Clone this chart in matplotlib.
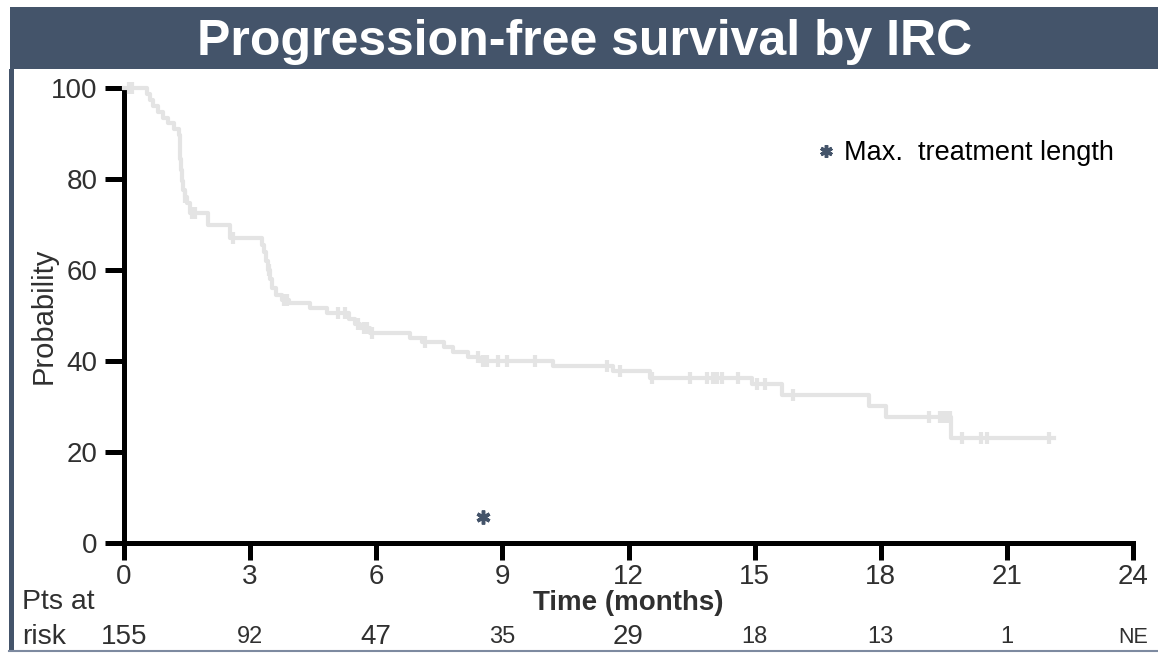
import numpy as np
import matplotlib
matplotlib.use('Agg')
import matplotlib.pyplot as plt
from matplotlib.patches import Rectangle
from matplotlib.lines import Line2D

plt.rcParams['font.family'] = ['Liberation Sans', 'DejaVu Sans']

# Kaplan-Meier steps (time in months, % progression-free)
step_t = [0, 0.55, 0.62, 0.70, 0.80, 0.92, 1.05, 1.20, 1.30, 1.33, 1.34, 1.35,
          1.37, 1.40, 1.44, 1.50, 1.58, 2.00, 2.52, 3.28, 3.33, 3.38, 3.43, 3.48,
          3.52, 3.62, 3.75, 3.92, 4.42, 4.82, 5.35, 5.50, 5.62, 5.85, 6.80, 7.10,
          7.60, 7.83, 8.19, 8.45, 10.21, 11.64, 12.51, 14.93, 15.64, 17.73, 18.13,
          19.67, 22.12]
step_s = [100, 98.7, 97.4, 96.1, 94.8, 93.5, 92.2, 90.9, 89.6, 87.0, 84.5, 82.0,
          79.5, 77.5, 76.1, 74.8, 72.5, 69.9, 67.0, 65.5, 64.0, 62.0, 60.0, 58.0,
          56.0, 54.6, 53.4, 52.7, 51.6, 50.5, 49.3, 48.2, 47.2, 46.1, 45.0, 44.2,
          43.0, 42.0, 40.8, 40.0, 38.8, 37.8, 36.3, 34.9, 32.5, 30.1, 27.8, 23.1,
          23.1]
censor_t = [0.12, 0.18, 1.45, 1.62, 1.68, 2.60, 3.45, 3.80, 3.87, 5.10, 5.26,
            5.57, 5.70, 5.78, 5.90, 7.16, 8.43, 8.55, 8.63, 8.90, 9.10, 9.78,
            11.48, 11.80, 12.57, 13.46, 13.86, 14.02, 14.10, 14.22, 14.61, 15.05,
            15.25, 15.92, 19.15, 19.40, 19.48, 19.56, 19.64, 19.93, 20.38, 20.52,
            22.00]

max_treat_t = 8.55
max_treat_y = 5.7

x_ticks = [0, 3, 6, 9, 12, 15, 18, 21, 24]
y_ticks = [0, 20, 40, 60, 80, 100]
at_risk = ['155', '92', '47', '35', '29', '18', '13', '1', 'NE']
risk_size = [20, 17, 20, 17, 20, 17, 17, 17, 15.5]

slate = '#44546A'
curve_col = '#e4e4e4'
txt_col = '#303030'

fig = plt.figure(figsize=(11.58, 6.53), dpi=100)

# title banner and panel frame
fig.add_artist(Rectangle((10 / 1158, (653 - 69) / 653), 1 - 10 / 1158, 62 / 653,
                         transform=fig.transFigure, facecolor=slate, edgecolor='none'))
fig.add_artist(Rectangle((9 / 1158, 2 / 653), 5 / 1158, (653 - 69 - 2) / 653,
                         transform=fig.transFigure, facecolor=slate, edgecolor='none'))
fig.add_artist(Line2D([9 / 1158, 1], [2.5 / 653, 2.5 / 653], transform=fig.transFigure,
                      color='#7d8aa0', lw=1.5))
fig.text(585 / 1158, (653 - 42) / 653, 'Progression-free survival by IRC', color='white',
         fontsize=36, fontweight='bold', ha='center', va='center')

ax = fig.add_axes([124 / 1158, 110 / 653, 1009 / 1158, 455 / 653])
ax.set_xlim(0, 24)
ax.set_ylim(0, 100)

# curve and censor marks
ax.step(step_t, step_s, where='post', color=curve_col, lw=3, clip_on=False, zorder=3)
idx = np.searchsorted(step_t, censor_t, side='right') - 1
censor_s = np.array(step_s)[idx]
ax.plot(censor_t, censor_s, ls='none', marker='|', ms=9, mew=3, color=curve_col,
        clip_on=False, zorder=3)

# max treatment length marker + legend
ax.plot([max_treat_t], [max_treat_y], ls='none', marker=(6, 2, 0), ms=10, mew=2.5,
        color=slate, label='Max.  treatment length')
ax.legend(loc='center left', bbox_to_anchor=((818 - 124) / 1009, (543 - 153) / 455),
          frameon=False, fontsize=19.5, handlelength=0.6, handletextpad=0.35,
          markerscale=0.9, borderaxespad=0, borderpad=0)

for s in ['top', 'right']:
    ax.spines[s].set_visible(False)
for s in ['left', 'bottom']:
    ax.spines[s].set_linewidth(3.6)
ax.set_xticks(x_ticks)
ax.set_yticks(y_ticks)
ax.tick_params(axis='both', length=12, width=3.6, labelsize=20, labelcolor=txt_col)
ax.tick_params(axis='y', length=14, pad=5)
ax.tick_params(axis='x', pad=3)

ax.set_ylabel('Probability', fontsize=21, color=txt_col)
ax.yaxis.set_label_coords(-0.066, 0.5)
ax.set_xlabel('Time (months)', fontsize=20, fontweight='bold', color=txt_col, labelpad=0)

# number at risk table
trans = ax.get_xaxis_transform()
ax.text(-2.43, -0.13, 'Pts at', transform=trans, fontsize=20.5, color=txt_col,
        ha='left', va='center')
ax.text(-2.43, -0.2066, 'risk', transform=trans, fontsize=20.5, color=txt_col,
        ha='left', va='center')
for xt, n, fs in zip(x_ticks, at_risk, risk_size):
    ax.text(xt, -0.2066, n, transform=trans, fontsize=fs, color=txt_col,
            ha='center', va='center')

fig.savefig('out.png', dpi=100)
